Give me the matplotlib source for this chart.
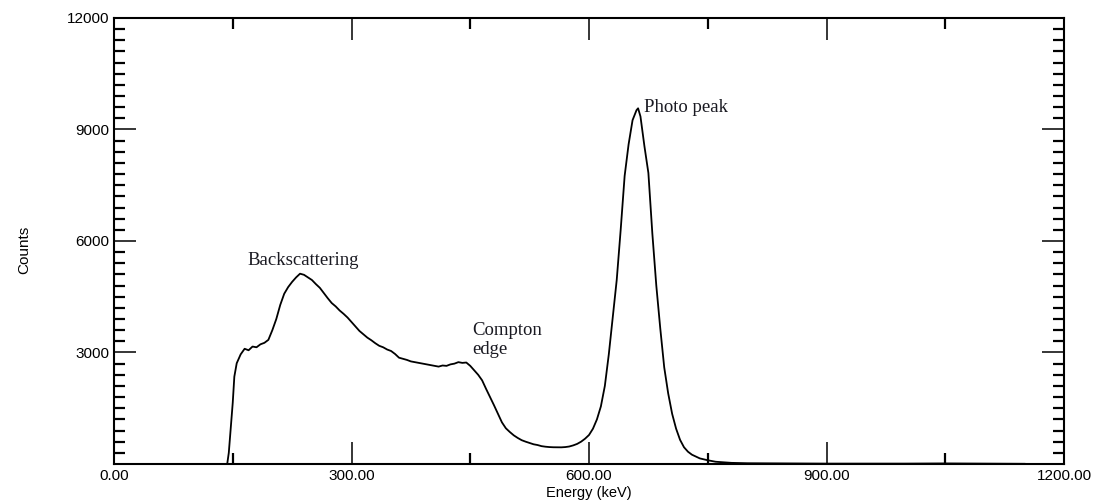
import matplotlib
matplotlib.use('Agg')
import matplotlib.pyplot as plt
from matplotlib.ticker import MultipleLocator

# gamma spectrum (keV, counts)
energy = [143, 145, 148, 150, 152, 155, 160, 165, 170, 175, 180, 185, 190, 195,
          200, 205, 210, 215, 220, 225, 230, 235, 240, 245, 250, 255, 260, 265,
          270, 275, 280, 285, 290, 295, 300, 305, 310, 315, 320, 325, 330, 335,
          340, 345, 350, 355, 360, 365, 370, 375, 380, 385, 390, 395, 400, 405,
          410, 415, 420, 425, 430, 435, 440, 445, 450, 455, 460, 465, 470, 475,
          480, 485, 490, 495, 500, 505, 510, 515, 520, 525, 530, 535, 540, 545,
          550, 555, 560, 565, 570, 575, 580, 585, 590, 595, 600, 605, 610, 615,
          620, 625, 630, 635, 640, 645, 650, 655, 660, 662, 665, 670, 675, 680,
          685, 690, 695, 700, 705, 710, 715, 720, 725, 730, 740, 750, 760, 780,
          800, 850, 900, 950, 1000, 1050, 1100, 1150]
counts = [0, 300, 1100, 1650, 2350, 2710, 2950, 3100, 3060, 3160, 3140, 3220, 3260, 3340,
          3600, 3900, 4280, 4580, 4760, 4900, 5020, 5120, 5090, 5020, 4950, 4840, 4740, 4600,
          4460, 4330, 4240, 4130, 4040, 3940, 3820, 3700, 3580, 3490, 3400, 3330, 3250, 3180,
          3140, 3080, 3040, 2960, 2860, 2830, 2800, 2760, 2740, 2720, 2700, 2680, 2660, 2640,
          2620, 2650, 2640, 2680, 2700, 2740, 2720, 2730, 2640, 2520, 2400, 2250, 2020, 1800,
          1580, 1350, 1120, 960, 860, 770, 700, 640, 600, 565, 530, 510, 480, 465,
          455, 450, 450, 448, 455, 470, 500, 540, 600, 680, 780, 950, 1200, 1550,
          2100, 2950, 3950, 4950, 6300, 7750, 8600, 9250, 9520, 9570, 9350, 8550, 7830, 6200,
          4800, 3650, 2600, 1900, 1350, 950, 650, 450, 330, 250, 150, 100, 60, 30,
          20, 15, 10, 10, 10, 15, 10, 5]

xticks = [0, 300, 600, 900, 1200]
xticklabels = ['0.00', '300.00', '600.00', '900.00', '1200.00']
yticks = [0, 3000, 6000, 9000, 12000]
yticklabels = ['', '3000', '6000', '9000', '12000']

notes = [
    ('Backscattering', 169, 5350, 'baseline'),
    ('Compton\nedge', 453, 3830, 'top'),
    ('Photo peak', 669, 9470, 'baseline'),
]

fig = plt.figure(figsize=(10.94, 5.04), dpi=100)
ax = fig.add_axes([0.1042, 0.0794, 0.8684, 0.8849])

ax.plot(energy, counts, color='black', linewidth=1.3)

ax.set_xlim(0, 1200)
ax.set_ylim(0, 12000)
ax.set_xticks(xticks)
ax.set_xticklabels(xticklabels, fontfamily='Liberation Sans', fontsize=11)
ax.set_yticks(yticks)
ax.set_yticklabels(yticklabels, fontfamily='Liberation Sans', fontsize=11)
ax.xaxis.set_minor_locator(MultipleLocator(150))
ax.yaxis.set_minor_locator(MultipleLocator(300))

ax.tick_params(which='major', direction='in', length=16, width=1.1,
               top=True, right=True, pad=3.5)
ax.tick_params(which='minor', direction='in', length=8, width=1.6,
               top=True, right=True)
for sp in ax.spines.values():
    sp.set_linewidth(1.5)

ax.set_xlabel('Energy (keV)', fontfamily='Liberation Sans', fontsize=10.5, labelpad=2)
ax.set_ylabel('Counts', fontfamily='Liberation Sans', fontsize=11, labelpad=0)
ax.yaxis.set_label_coords(-0.087, 0.48)

for txt, x, y, va in notes:
    ax.text(x, y, txt, fontfamily='Liberation Serif', fontsize=13.5,
            color='#1a1a22', ha='left', va=va, linespacing=1.2)

fig.savefig('out.png', dpi=100)
